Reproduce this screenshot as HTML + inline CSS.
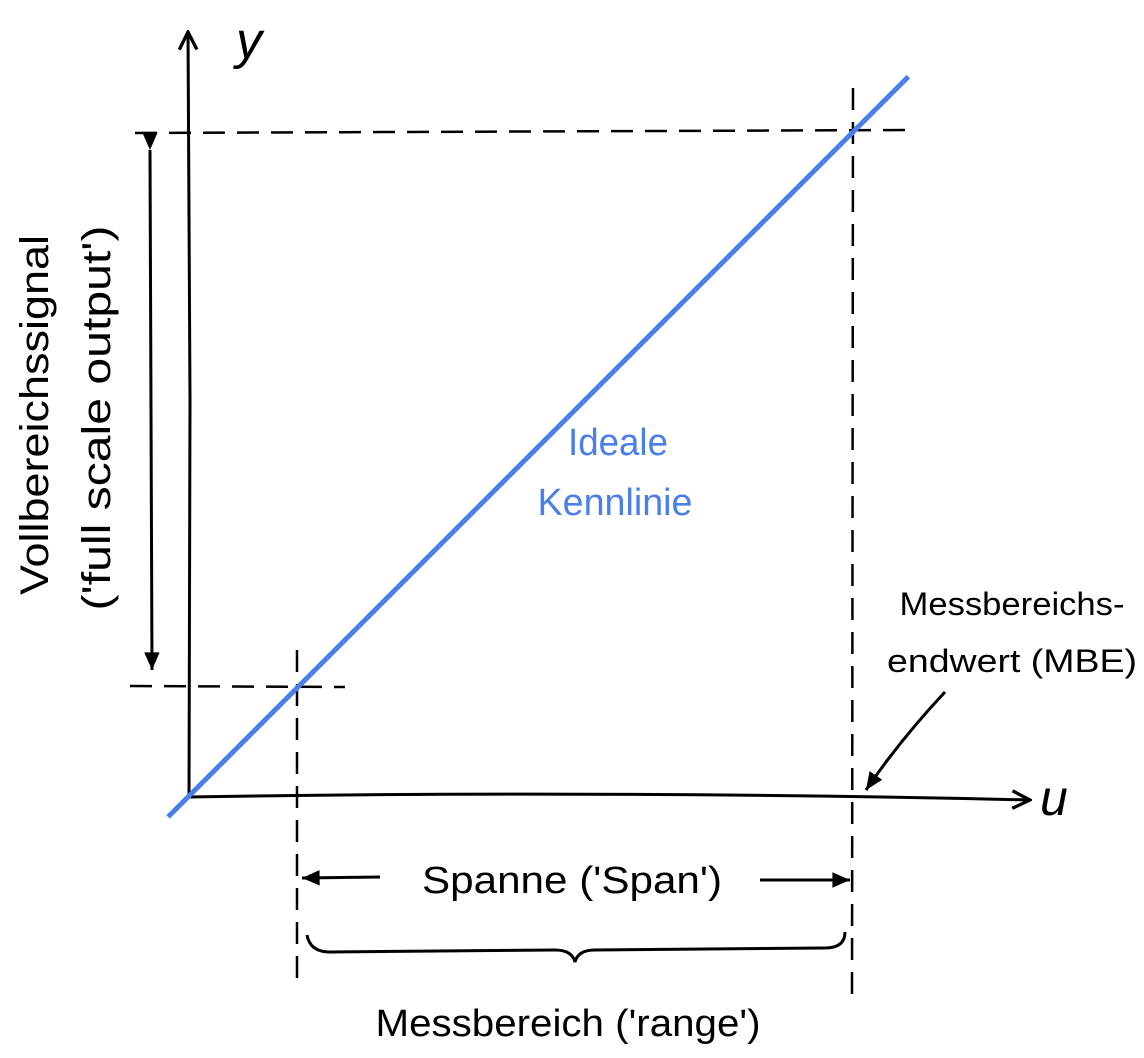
<!DOCTYPE html>
<html><head><meta charset="utf-8"><style>
html,body{margin:0;padding:0;background:#fff;}
svg{display:block;}
text{font-family:"Liberation Sans Narrow","Liberation Sans",sans-serif;}
</style></head><body>
<svg id="c" width="1144" height="1058" viewBox="0 0 1144 1058">
<defs>
<marker id="ah" viewBox="0 0 20 20" refX="18" refY="10" markerWidth="22" markerHeight="22" markerUnits="userSpaceOnUse" orient="auto">
<path d="M2,2 L18,10 L2,18" fill="none" stroke="#000" stroke-width="3"/></marker>
<marker id="fh" viewBox="0 0 20 20" refX="18" refY="10" markerWidth="22" markerHeight="22" markerUnits="userSpaceOnUse" orient="auto">
<path d="M2,3 L18,10 L2,17 Z" fill="#000"/></marker>
</defs>
<g stroke="#000" stroke-width="3" fill="none">
<path d="M189,798 L190,400 L188,32" marker-end="url(#ah)"/>
<path d="M188,797 Q600,790 1030,800" marker-end="url(#ah)"/>
</g>
<g stroke="#000" stroke-width="2.5" fill="none" stroke-dasharray="22,12">
<line x1="135" y1="133" x2="915" y2="130"/>
<line x1="853" y1="88" x2="852" y2="1000"/>
<line x1="130" y1="686" x2="345" y2="687"/>
<line x1="297" y1="650" x2="297" y2="985"/>
</g>
<g id="series"></g>
<path d="M150,150 L152,670" stroke="#000" stroke-width="3" fill="none" marker-start="url(#fh)" marker-end="url(#fh)"/>
<text x="236" y="58" font-size="52" font-style="italic">y</text>
<text x="1040" y="815" font-size="50" font-style="italic">u</text>
<text transform="translate(48,415) rotate(-90)" font-size="40" text-anchor="middle" textLength="360" lengthAdjust="spacingAndGlyphs">Vollbereichssignal</text>
<text transform="translate(110,418) rotate(-90)" font-size="40" text-anchor="middle" textLength="385" lengthAdjust="spacingAndGlyphs">('full scale output')</text>
<text x="618" y="455" font-size="38" fill="#4a7fe8" text-anchor="middle" textLength="100" lengthAdjust="spacingAndGlyphs">Ideale</text>
<text x="615" y="515" font-size="38" fill="#4a7fe8" text-anchor="middle" textLength="155" lengthAdjust="spacingAndGlyphs">Kennlinie</text>
<text x="1012" y="615" font-size="32" text-anchor="middle" textLength="225" lengthAdjust="spacingAndGlyphs">Messbereichs-</text>
<text x="1012" y="672" font-size="32" text-anchor="middle" textLength="250" lengthAdjust="spacingAndGlyphs">endwert (MBE)</text>
<path d="M945,692 Q900,740 866,790" stroke="#000" stroke-width="3" fill="none" marker-end="url(#fh)"/>
<text x="572" y="893" font-size="38" text-anchor="middle" textLength="300" lengthAdjust="spacingAndGlyphs">Spanne ('Span')</text>
<path d="M380,877 L302,878" stroke="#000" stroke-width="3" fill="none" marker-end="url(#fh)"/>
<path d="M760,880 L850,880" stroke="#000" stroke-width="3" fill="none" marker-end="url(#fh)"/>
<path d="M307,935 Q310,952 330,952 L555,950 Q572,950 575,962 Q578,950 595,950 L825,948 Q845,948 845,932" stroke="#000" stroke-width="3" fill="none"/>
<text x="568" y="1036" font-size="38" text-anchor="middle" textLength="385" lengthAdjust="spacingAndGlyphs">Messbereich ('range')</text>
</svg>
<script>
// ideal characteristic: input u vs output y (normalised units)
const uValues = [-0.03, 1.085];
const yValues = [-0.03, 1.085];
function xScale(u){ return 188 + u * (852 - 188); }
function yScale(y){ return 797 - y * (797 - 133); }
const g = document.getElementById('series');
const p = document.createElementNS('http://www.w3.org/2000/svg','path');


let d = '';
for (let i = 0; i < uValues.length; i++) {
  d += (i ? 'L' : 'M') + xScale(uValues[i]).toFixed(1) + ',' + yScale(yValues[i]).toFixed(1);
}
p.setAttribute('d', d);
p.setAttribute('stroke', '#4a7fe8');
p.setAttribute('stroke-width', '5');
p.setAttribute('fill', 'none');
g.appendChild(p);
</script>
</body></html>
